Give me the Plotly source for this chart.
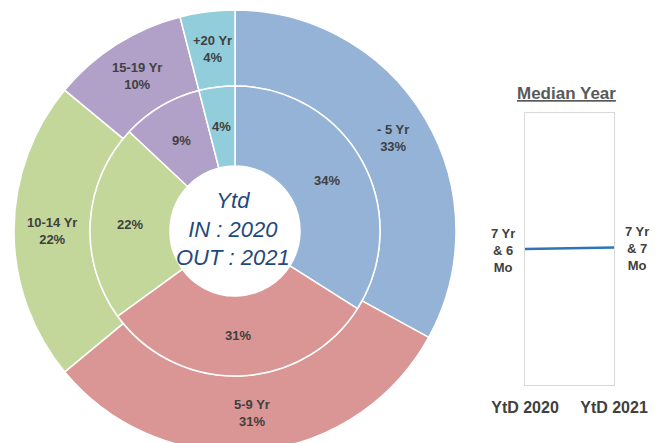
import math
import plotly.graph_objects as go

# ---- data ----
age_labels = ["- 5 Yr", "5-9 Yr", "10-14 Yr", "15-19 Yr", "+20 Yr"]
out_2021 = [33, 31, 22, 10, 4]   # outer ring (%)
in_2020 = [34, 31, 22, 9, 4]     # inner ring (%)
slice_colors = ["#95B3D7", "#DA9694", "#C4D79B", "#B1A0C7", "#92CDDC"]

median_periods = ["YtD 2020", "YtD 2021"]
median_years = [7.5, 7.583]
median_labels = ["7 Yr<br>& 6<br>Mo", "7 Yr<br>& 7<br>Mo"]

# page body has an 8px default margin; size the figure so its right edge meets the window
OFF = 8
W, H = 659, 453


def xp(vx):
    return (vx - OFF) / W


def yp(vy):
    return 1 - (vy - OFF) / H


cx, cy = 235, 231
R_out, R_in, R_hole = 221, 145, 65
FONT = "Liberation Sans, Arial, sans-serif"
label_font = dict(family=FONT, size=13, color="#404040")

fig = go.Figure()

fig.add_trace(go.Pie(
    labels=age_labels, values=out_2021, sort=False, direction="clockwise", rotation=0,
    hole=R_in / R_out, marker=dict(colors=slice_colors, line=dict(color="white", width=1.5)),
    textinfo="none", automargin=False,
    domain=dict(x=[xp(cx - R_out), xp(cx + R_out)], y=[yp(cy + R_out), yp(cy - R_out)]),
    showlegend=False, hoverinfo="label+value",
))

fig.add_trace(go.Pie(
    labels=age_labels, values=in_2020, sort=False, direction="clockwise", rotation=0,
    hole=R_hole / R_in, marker=dict(colors=slice_colors, line=dict(color="white", width=1.5)),
    textinfo="none", automargin=False,
    domain=dict(x=[xp(cx - R_in), xp(cx + R_in)], y=[yp(cy + R_in), yp(cy - R_in)]),
    showlegend=False, hoverinfo="label+value",
))

# median line chart
fig.add_trace(go.Scatter(
    x=[0, 1], y=median_years, mode="lines", line=dict(color="#2E75B6", width=2.5),
    xaxis="x", yaxis="y", showlegend=False, hoverinfo="y",
))

anns = []


def ring_labels(values, texts, r_mid):
    total = sum(values)
    cum = 0
    for v, t in zip(values, texts):
        ang = math.radians((cum + v / 2) / total * 360)
        cum += v
        vx = cx + r_mid * math.sin(ang)
        vy = cy - r_mid * math.cos(ang)
        anns.append(dict(text="<b>" + t + "</b>", x=xp(vx), y=yp(vy), xref="paper", yref="paper",
                         xanchor="center", yanchor="middle", showarrow=False, align="center",
                         font=label_font))


ring_labels(out_2021, [f"{l}<br>{v}%" for l, v in zip(age_labels, out_2021)], (R_in + R_out) / 2)
ring_labels(in_2020, [f"{v}%" for v in in_2020], (R_hole + R_in) / 2)

anns += [
    dict(text="<i>Ytd<br>IN : 2020<br>OUT : 2021</i>", x=xp(233), y=yp(229), xref="paper", yref="paper",
         xanchor="center", yanchor="middle", showarrow=False,
         font=dict(family=FONT, size=22, color="#1F497D"), align="center"),
    dict(text="<b><u>Median Year</u></b>", x=xp(566), y=yp(94), xref="paper", yref="paper",
         xanchor="center", yanchor="middle", showarrow=False,
         font=dict(family=FONT, size=17, color="#595959")),
]
for i, (yv, lab) in enumerate(zip(median_years, median_labels)):
    anns.append(dict(text="<b>" + lab + "</b>", x=i, y=yv, xref="x", yref="y", showarrow=False,
                     xanchor="right" if i == 0 else "left", yanchor="middle",
                     xshift=-8 if i == 0 else 9, yshift=-1, align="center",
                     font=dict(family=FONT, size=13, color="#404040")))

fig.update_layout(
    template="none",
    width=W, height=H, margin=dict(l=0, r=0, t=0, b=0, autoexpand=False),
    paper_bgcolor="white", plot_bgcolor="white",
    xaxis=dict(domain=[xp(525), xp(614)], range=[0, 1], tickvals=[0, 1],
               ticktext=["<b>" + p + "</b>" for p in median_periods],
               showgrid=False, zeroline=False, showline=True, linecolor="#D9D9D9", linewidth=1,
               mirror=True, automargin=False, ticklabelstandoff=8,
               tickfont=dict(family=FONT, size=16, color="#404040"), ticks="", ticklen=0),
    yaxis=dict(domain=[yp(385), yp(113)], range=[0, 15], showticklabels=False,
               showgrid=False, zeroline=False, showline=True, linecolor="#D9D9D9", linewidth=1,
               mirror=True, automargin=False, ticks=""),
    annotations=anns,
)

fig.write_html("out.html")
